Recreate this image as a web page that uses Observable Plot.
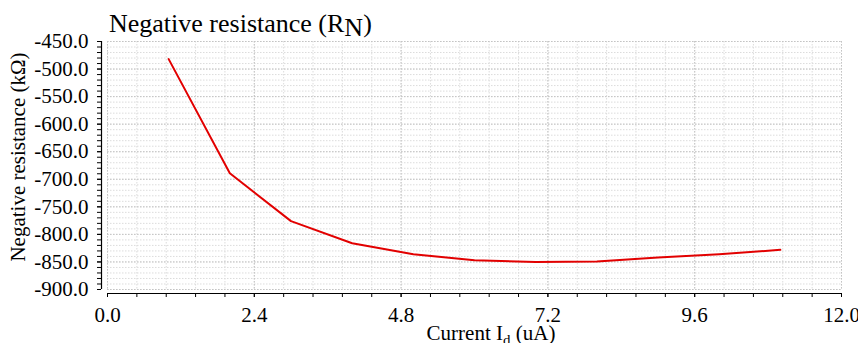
<!DOCTYPE html>
<html>
<head>
<meta charset="utf-8">
<script src="https://cdn.jsdelivr.net/npm/d3@7"></script>
<script src="https://cdn.jsdelivr.net/npm/@observablehq/plot@0.6"></script>
<style>
  html, body { margin: 0; padding: 0; background: #fff; }
  #chart { width: 858px; height: 343px; overflow: hidden; }
</style>
</head>
<body>
<div id="chart"></div>
<script>
// Data
const currents = [1, 2, 3, 4, 5, 6, 7, 8, 9, 10, 11];            // uA
const resistance = [-482, -689, -776, -816, -836, -847, -850, -849, -842, -836, -828]; // kΩ

// Tick labels
const xTicks = [0, 2.4, 4.8, 7.2, 9.6, 12];
const yTicks = [-900, -850, -800, -750, -700, -650, -600, -550, -500, -450];
const xMinorStep = 0.48;
const yMinorStep = 10;

const titleText = "Negative resistance (R";
const titleSub = "N";
const yLabel = "Negative resistance (kΩ)";
const xLabelMain = "Current I";
const xLabelSub = "d";
const xLabelTail = " (uA)";

const xMinor = d3.range(0, 12 + 1e-9, xMinorStep).map(v => +v.toFixed(2));
const yMinor = d3.range(-900, -450 + 1e-9, yMinorStep);

const data = currents.map((c, i) => ({x: c, y: resistance[i]}));

const fmt = d => d.toFixed(1);

const plot = Plot.plot({
  width: 858,
  height: 343,
  marginLeft: 107,
  marginRight: 17,
  marginTop: 41,
  marginBottom: 54,
  style: {fontFamily: "'Liberation Serif', 'Times New Roman', serif", fontSize: "21px", color: "#000", background: "#fff"},
  x: {domain: [0, 12]},
  y: {domain: [-900, -450]},
  marks: [
    Plot.gridX(xMinor, {stroke: "#dcdcdc", strokeOpacity: 1, strokeDasharray: "1.5,1.5"}),
    Plot.gridY(yMinor, {stroke: "#dcdcdc", strokeOpacity: 1, strokeDasharray: "1.5,1.5"}),
    Plot.gridX(xTicks, {stroke: "#c4c4c4", strokeOpacity: 1, strokeDasharray: "1.5,1.5"}),
    Plot.gridY(yTicks, {stroke: "#c4c4c4", strokeOpacity: 1, strokeDasharray: "1.5,1.5"}),
    // axis lines (offset from plot area)
    Plot.ruleY([-900], {stroke: "#000", strokeWidth: 1.2, dy: 4}),
    Plot.ruleX([0], {stroke: "#000", strokeWidth: 1.2, dx: -6}),
    // minor ticks
    Plot.axisX(xMinor, {tickSize: 4, tickFormat: () => "", dy: 4, label: null, stroke: "#000"}),
    Plot.axisY(yMinor, {tickSize: 4, tickFormat: () => "", dx: -6, label: null, stroke: "#000"}),
    // major ticks with labels
    Plot.axisX(xTicks, {tickSize: 4, tickPadding: 10, tickFormat: fmt, dy: 4, label: null, fill: "#000"}),
    Plot.axisY(yTicks, {tickSize: 4, tickPadding: 9, tickFormat: fmt, dx: -6, label: null, fill: "#000"}),
    Plot.line(data, {x: "x", y: "y", stroke: "#e20000", strokeWidth: 2})
  ]
});

document.getElementById("chart").appendChild(plot);

const svg = d3.select(plot);
const ff = "'Liberation Serif', 'Times New Roman', serif";

// Title
const t = svg.append("text")
  .attr("x", 109).attr("y", 32)
  .attr("text-anchor", "start")
  .attr("font-family", ff).attr("font-size", 26).attr("fill", "#000");
t.append("tspan").text(titleText);
t.append("tspan").attr("dy", 4).text(titleSub);
t.append("tspan").attr("dy", -4).text(")");

// Y label
svg.append("text")
  .attr("transform", "translate(25,157) rotate(-90)")
  .attr("text-anchor", "middle")
  .attr("font-family", ff).attr("font-size", 21).attr("fill", "#000")
  .text(yLabel);

// X label
const xl = svg.append("text")
  .attr("x", 491).attr("y", 340)
  .attr("text-anchor", "middle")
  .attr("font-family", ff).attr("font-size", 21).attr("fill", "#000");
xl.append("tspan").text(xLabelMain);
xl.append("tspan").attr("dy", 5).attr("font-size", 15).text(xLabelSub);
xl.append("tspan").attr("dy", -5).text(xLabelTail);
</script>
</body>
</html>
